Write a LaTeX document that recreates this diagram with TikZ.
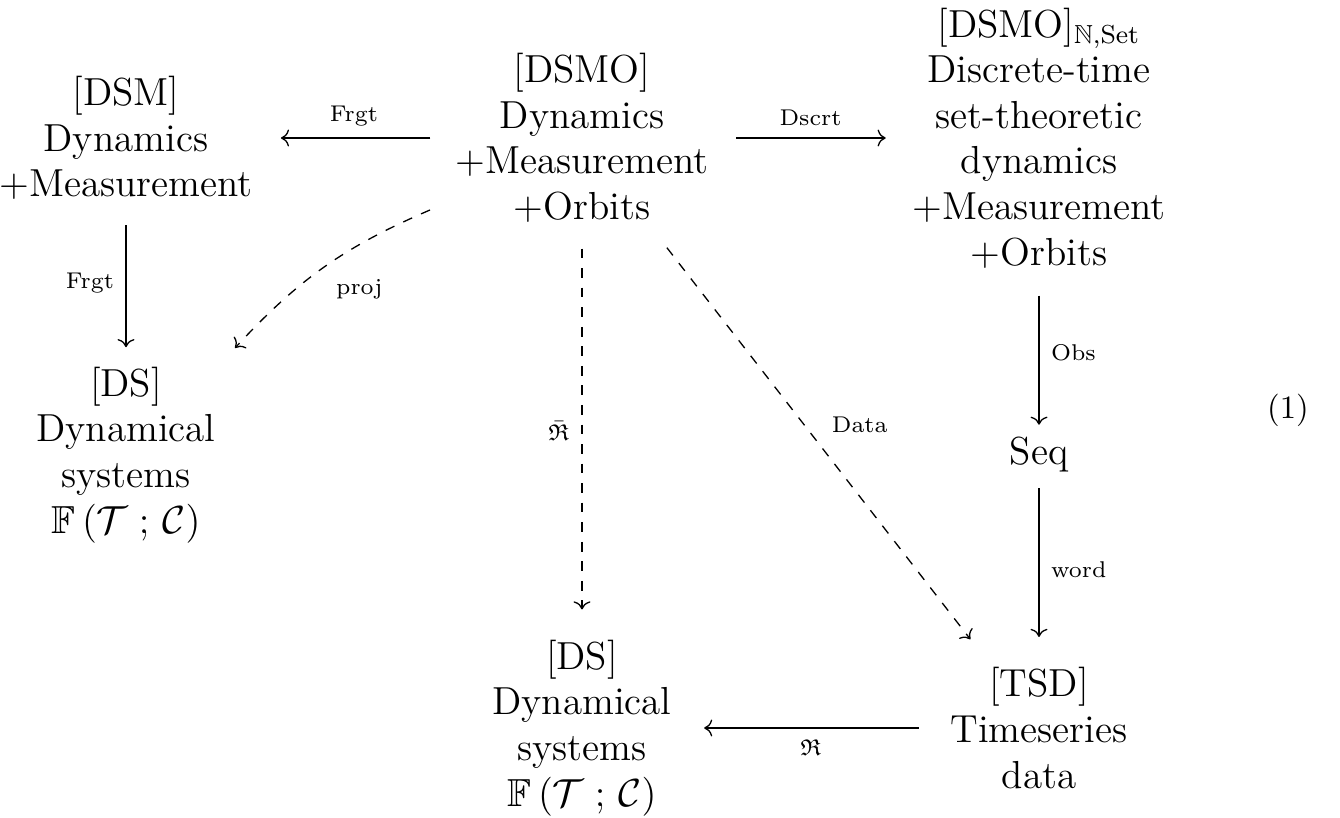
\documentclass[tikz,border=0pt]{standalone}
\usepackage{amssymb}
\usetikzlibrary{arrows.meta,calc}

\begin{document}
\begin{tikzpicture}[x=0.307pt,y=-0.307pt,
  obj/.style={font=\large,align=center,inner sep=0pt},
  lab/.style={font=\scriptsize,inner sep=3.5pt},
  cd/.style={-{Computer Modern Rightarrow}}]
  \useasboundingbox (0,0) rectangle (1340,818);

  % objects
  \node[obj] (DSM) at (126,138) {[DSM]\\Dynamics\\+Measurement};
  \node[obj] (DSMO) at (582,138) {[DSMO]\\Dynamics\\+Measurement\\+Orbits};
  \node[obj] (DSMON) at (1039,138) {[DSMO]$_{\mathbb{N},\mathrm{Set}}$\\Discrete-time\\set-theoretic\\dynamics\\+Measurement\\+Orbits};
  \node[obj] (DSa) at (126,455) {[DS]\\Dynamical\\systems\\$\mathbb{F}\,(\mathcal{T}\;;\,\mathcal{C})$};
  \node[obj] (Seq) at (1039,455) {Seq};
  \node[obj] (DSb) at (582,728) {[DS]\\Dynamical\\systems\\$\mathbb{F}\,(\mathcal{T}\;;\,\mathcal{C})$};
  \node[obj] (TSD) at (1039,728) {[TSD]\\Timeseries\\data};
  \node (eq) at (1288,410) {(1)};

  % arrows
  \draw[cd,shorten <=7.5pt,shorten >=8.5pt] (DSMO) -- node[lab,above]{Frgt} (DSM);
  \draw[cd,shorten <=8.3pt,shorten >=8pt] (DSMO) -- node[lab,above]{Dscrt} (DSMON);
  \draw[cd,shorten <=7.7pt,shorten >=5.9pt] (DSM) -- node[lab,left]{Frgt} (DSa);
  \draw[cd,dashed] ($(DSMO)+(-152,72)$) to[bend right=12] node[lab,midway,below right]{proj} ($(DSa)+(109,-107)$);
  \draw[cd,dashed,shorten <=7.8pt,shorten >=9.2pt] (DSMO) -- node[lab,left]{$\bar{\mathfrak{R}}$} (DSb);
  \draw[cd,dashed,shorten <=9.5pt,shorten >=10.7pt] (DSMO) -- node[lab,above right]{Data} (TSD);
  \draw[cd,shorten <=8.2pt,shorten >=3.7pt] (DSMON) -- node[lab,right]{Obs} (Seq);
  \draw[cd,shorten <=4.6pt,shorten >=9.2pt] (Seq) -- node[lab,right]{word} (TSD);
  \draw[cd,shorten <=9.5pt,shorten >=9.8pt] (TSD) -- node[lab,below]{$\mathfrak{R}$} (DSb);
\end{tikzpicture}
\end{document}
